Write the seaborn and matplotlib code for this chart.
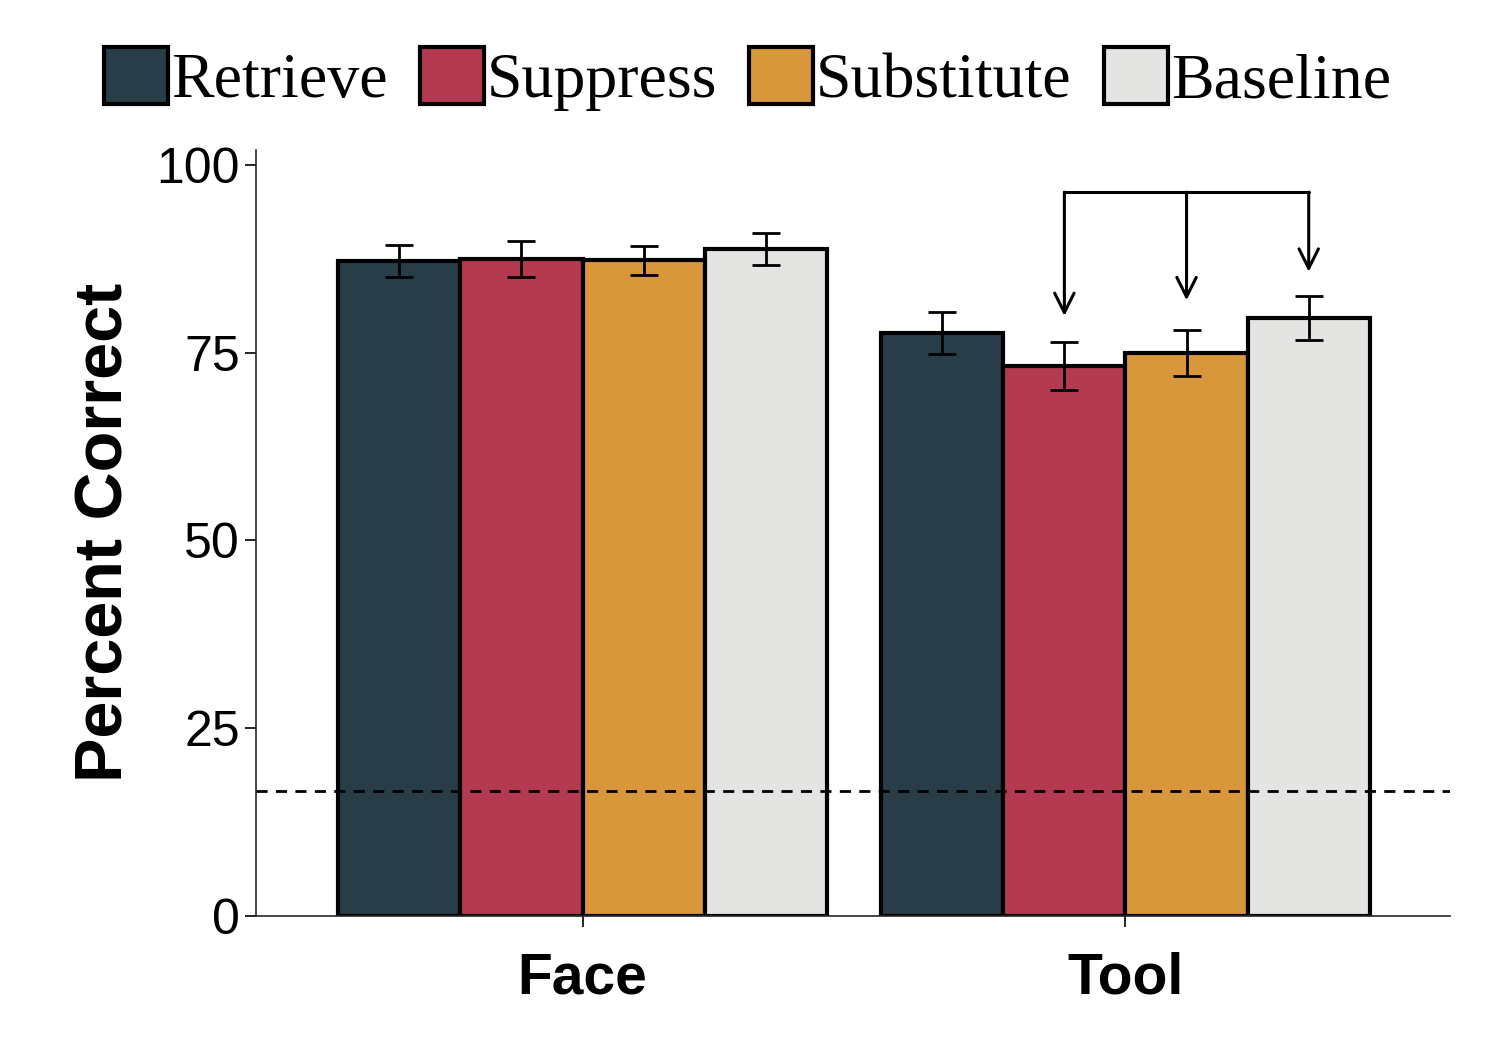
import numpy as np
import pandas as pd
import seaborn as sns
import matplotlib.pyplot as plt
from matplotlib.patches import Patch

# values
categories = ['Face', 'Tool']
conditions = ['Retrieve', 'Suppress', 'Substitute', 'Baseline']
face_mean = [87.2, 87.5, 87.3, 88.8]
face_err = [2.1, 2.4, 1.9, 2.1]
tool_mean = [77.6, 73.2, 75.0, 79.6]
tool_err = [2.8, 3.2, 3.1, 2.9]
chance = 100 / 6
colors = ['#283d47', '#b33a50', '#d9973b', '#e4e5e3']

df = pd.DataFrame({
    'category': [c for c in categories for _ in conditions],
    'condition': conditions * 2,
    'score': face_mean + tool_mean,
    'err': face_err + tool_err,
})

sns.set_style('ticks')
plt.rcParams['font.family'] = ['Liberation Sans', 'DejaVu Sans']
plt.rcParams['text.color'] = 'black'
plt.rcParams['axes.labelcolor'] = 'black'
plt.rcParams['xtick.color'] = 'black'
plt.rcParams['ytick.color'] = 'black'

fig = plt.figure(figsize=(14.95, 10.5), dpi=100)
ax = fig.add_axes([0.171, 0.128, 0.799, 0.729])

sns.barplot(data=df, x='category', y='score', hue='condition', hue_order=conditions,
            order=categories, palette=colors, width=0.9, errorbar=None,
            edgecolor='black', linewidth=3, saturation=1, ax=ax, legend=False)

# error bars at bar centres
bars = ax.patches[:8]
centers = {}
for i, cond in enumerate(conditions):
    for j, cat in enumerate(categories):
        p = bars[i * 2 + j]
        x = p.get_x() + p.get_width() / 2
        row = df[(df.category == cat) & (df.condition == cond)].iloc[0]
        ax.errorbar(x, row.score, yerr=row.err, color='black', capsize=10,
                    elinewidth=2, capthick=2, zorder=5)
        centers[(cat, cond)] = x

ax.axhline(chance, color='black', ls=(0, (4, 3)), lw=2, zorder=6)

# significance bracket with arrows on Tool group
ytop = 96.4
xs = [centers[('Tool', c)] for c in ['Suppress', 'Substitute', 'Baseline']]
ends = [79.9, 82.0, 85.8]
ax.plot([xs[0], xs[2]], [ytop, ytop], color='black', lw=2.2)
for x, e in zip(xs, ends):
    ax.annotate('', xy=(x, e), xytext=(x, ytop),
                arrowprops=dict(arrowstyle='->', color='black', lw=2.2,
                                mutation_scale=35, shrinkA=0, shrinkB=0))

ax.set_xlim(-0.602, 1.598)
ax.set_ylim(0, 102)
ax.set_yticks([0, 25, 50, 75, 100])
ax.set_xlabel('')
ax.set_ylabel('Percent Correct', fontsize=48, fontweight='bold', labelpad=14)
ax.tick_params(axis='y', labelsize=36, width=1.2, length=8)
ax.tick_params(axis='x', labelsize=41, width=1.2, length=8, pad=18)
for t in ax.get_xticklabels():
    t.set_fontweight('bold')
sns.despine(ax=ax)
for s in ['left', 'bottom']:
    ax.spines[s].set_linewidth(1.2)

handles = [Patch(facecolor=c, edgecolor='black', linewidth=3) for c in colors]
fig.legend(handles, conditions, loc='upper center', bbox_to_anchor=(0.5, 1.01),
           ncol=4, frameon=False, prop={'family': 'Liberation Serif', 'size': 46},
           handlelength=1.0, handleheight=1.0, handletextpad=0.05, columnspacing=0.5)

fig.savefig('out.png', dpi=100)
